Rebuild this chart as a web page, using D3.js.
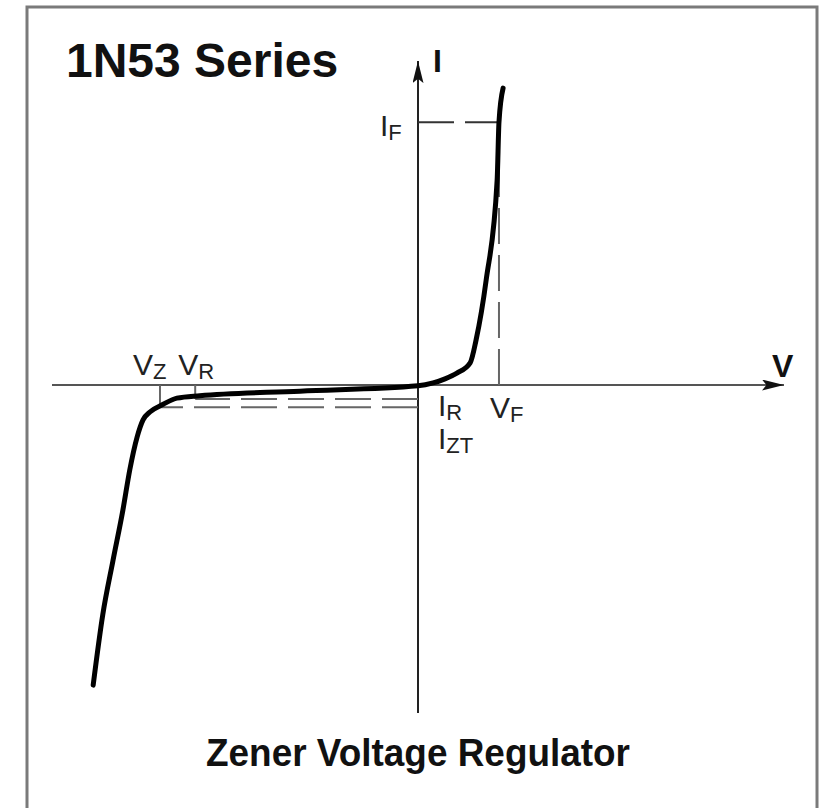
<!DOCTYPE html>
<html>
<head>
<meta charset="utf-8">
<script src="https://cdn.jsdelivr.net/npm/d3@7"></script>
<style>
  html, body { margin: 0; padding: 0; background: #fff; }
  svg { display: block; font-family: "Liberation Sans", Arial, Helvetica, sans-serif; }
</style>
</head>
<body>
<div id="chart"></div>
<script>
// I-V characteristic, in schematic units (voltage, current)
const curveVoltage = [-7.1, -6.89, -6.67, -6.45, -6.3, -6.14, -6.01, -5.86, -5.57, -5.27, -4.77, -2.58, 0, 0.33, 0.59, 0.85, 1.14, 1.27, 1.49, 1.73, 1.77, 1.86];
const curveCurrent = [-7.32, -5.6, -4.3, -3.05, -2.07, -1.27, -0.85, -0.66, -0.47, -0.32, -0.26, -0.15, -0.02, 0.05, 0.15, 0.29, 0.54, 1.1, 2.56, 5.0, 6.41, 7.24];

// characteristic points
const markerNames = ["VZ", "VR", "VF", "IR", "IZT", "IF"];
const markerValues = [-5.64, -4.87, 1.77, -0.34, -0.54, 6.41];
const marker = Object.fromEntries(markerNames.map((n, i) => [n, markerValues[i]]));

const width = 823;
const height = 808;

const svg = d3.select("#chart").append("svg")
  .attr("width", width)
  .attr("height", height);

const x = d3.scaleLinear().domain([-8, 8]).range([52, 784]);
const y = d3.scaleLinear().domain([-8, 8]).range([713, 57]);

// outer frame
svg.append("rect")
  .attr("x", 27)
  .attr("y", 7)
  .attr("width", 790)
  .attr("height", 820)
  .attr("fill", "none")
  .attr("stroke", "#7a7a7a")
  .attr("stroke-width", 3);

svg.append("defs").append("marker")
  .attr("id", "arrow")
  .attr("viewBox", "0 0 20 10")
  .attr("refX", 20)
  .attr("refY", 5)
  .attr("markerUnits", "userSpaceOnUse")
  .attr("markerWidth", 22)
  .attr("markerHeight", 11)
  .attr("orient", "auto")
  .append("path")
  .attr("d", "M0,0 L20,5 L0,10 L4,5 Z")
  .attr("fill", "#111");

// axes
svg.append("line")
  .attr("x1", x(-8)).attr("x2", x(8))
  .attr("y1", y(0)).attr("y2", y(0))
  .attr("stroke", "#555")
  .attr("stroke-width", 2)
  .attr("marker-end", "url(#arrow)");

svg.append("line")
  .attr("x1", x(0)).attr("x2", x(0))
  .attr("y1", y(-8)).attr("y2", y(7.9))
  .attr("stroke", "#222")
  .attr("stroke-width", 2)
  .attr("marker-end", "url(#arrow)");

// guides
const dash = "36,11";
const guides = svg.append("g").attr("fill", "none").attr("stroke", "#666").attr("stroke-width", 2);

guides.append("line") // IF level
  .attr("x1", x(0)).attr("x2", x(marker.VF))
  .attr("y1", y(marker.IF)).attr("y2", y(marker.IF))
  .attr("stroke", "#333")
  .attr("stroke-dasharray", dash);
guides.append("line") // VF drop
  .attr("x1", x(marker.VF)).attr("x2", x(marker.VF))
  .attr("y1", y(0)).attr("y2", y(marker.IF))
  .attr("stroke-dasharray", dash);
guides.append("line") // IR level
  .attr("x1", x(0)).attr("x2", x(marker.VR))
  .attr("y1", y(marker.IR)).attr("y2", y(marker.IR))
  .attr("stroke-dasharray", dash);
guides.append("line") // IZT level
  .attr("x1", x(0)).attr("x2", x(marker.VZ))
  .attr("y1", y(marker.IZT)).attr("y2", y(marker.IZT))
  .attr("stroke-dasharray", dash);
guides.append("line") // VZ tick
  .attr("x1", x(marker.VZ)).attr("x2", x(marker.VZ))
  .attr("y1", y(0)).attr("y2", y(marker.IZT));
guides.append("line") // VR tick
  .attr("x1", x(marker.VR)).attr("x2", x(marker.VR))
  .attr("y1", y(0)).attr("y2", y(marker.IR));

// characteristic curve
const line = d3.line()
  .x((d) => x(d[0]))
  .y((d) => y(d[1]))
  .curve(d3.curveMonotoneX);

svg.append("path")
  .datum(d3.zip(curveVoltage, curveCurrent))
  .attr("d", line)
  .attr("fill", "none")
  .attr("stroke", "#000")
  .attr("stroke-width", 5)
  .attr("stroke-linecap", "round")
  .attr("stroke-linejoin", "round");

// labels
function subLabel(px, py, main, sub) {
  const t = svg.append("text")
    .attr("x", px)
    .attr("y", py)
    .attr("fill", "#222")
    .attr("font-size", 30);
  t.append("tspan").text(main);
  t.append("tspan").attr("font-size", 22).attr("dy", 4).text(sub);
}

subLabel(x(marker.VZ) - 27, y(0) - 10, "V", "Z");
subLabel(x(marker.VR) - 17, y(0) - 10, "V", "R");
subLabel(x(0) + 20, y(0) + 31, "I", "R");
subLabel(x(0) + 20, y(0) + 64, "I", "ZT");
subLabel(x(marker.VF) - 9, y(0) + 33, "V", "F");
subLabel(x(0) - 38, y(marker.IF) + 14, "I", "F");

svg.append("text")
  .attr("x", x(0) + 15)
  .attr("y", 72)
  .attr("font-size", 32)
  .attr("font-weight", "bold")
  .attr("fill", "#111")
  .text("I");

svg.append("text")
  .attr("x", x(8) - 12)
  .attr("y", y(0) - 8)
  .attr("font-size", 32)
  .attr("font-weight", "bold")
  .attr("fill", "#111")
  .text("V");

svg.append("text")
  .attr("x", 66)
  .attr("y", 77)
  .attr("font-size", 48)
  .attr("font-weight", "bold")
  .attr("fill", "#111")
  .text("1N53 Series");

svg.append("text")
  .attr("x", x(0))
  .attr("y", 766)
  .attr("text-anchor", "middle")
  .attr("font-size", 39)
  .attr("font-weight", "bold")
  .attr("fill", "#111")
  .attr("textLength", 424)
  .attr("lengthAdjust", "spacingAndGlyphs")
  .text("Zener Voltage Regulator");
</script>
</body>
</html>
